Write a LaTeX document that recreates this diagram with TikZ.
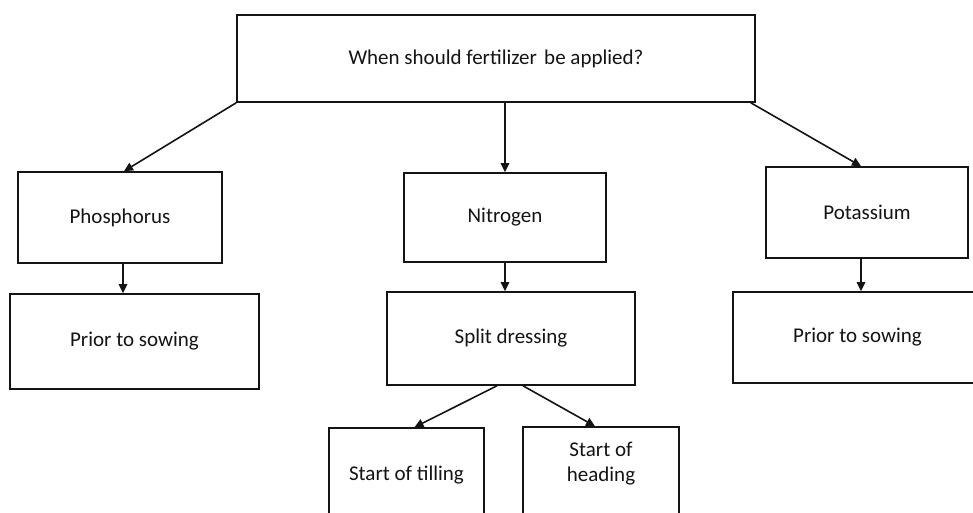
\documentclass[tikz,border=0pt]{standalone}
\usepackage{fontspec}
\setmainfont{Carlito}
\usetikzlibrary{arrows.meta}
\definecolor{ink}{RGB}{20,20,20}
\tikzset{
  box/.style={draw=ink, line width=1.6pt, rectangle, inner sep=0pt, align=center,
              font=\fontsize{21}{25}\selectfont, text=ink},
  link/.style={draw=ink, line width=1.6pt, -{Triangle[length=9pt,width=8.5pt]}}
}
\begin{document}
\begin{tikzpicture}[x=1pt, y=-1pt]
  \useasboundingbox (0,0) rectangle (973,513);
  \clip (0,0) rectangle (973,513);
  \fill[white] (0,0) rectangle (973,513);

  % question
  \node[box, minimum width=518pt, minimum height=87pt] (q) at (496,58.5)
    {When should fertilizer\hspace{0.12em} be applied?};

  % nutrients
  \node[box, minimum width=204pt, minimum height=91pt] (phos) at (120,217.5) {Phosphorus};
  \node[box, minimum width=202pt, minimum height=89pt] (nitro) at (505,217.5) {Nitrogen};
  \node[box, minimum width=202pt, minimum height=91pt] (pot) at (867,212.5) {Potassium};

  % timing
  \node[box, minimum width=249pt, minimum height=95pt] (prior1) at (134.5,341.5) {Prior to sowing};
  \node[box, minimum width=248pt, minimum height=93pt] (split) at (511,338.5) {Split dressing};
  \node[box, minimum width=249pt, minimum height=91pt] (prior2) at (857.5,337.5) {Prior to sowing};

  % split dressing stages
  \node[box, minimum width=155pt, minimum height=94pt] (till) at (406.5,475) {Start of tilling};
  \node[box, minimum width=156pt, minimum height=95pt] (head) at (601,474.5) {Start of\\heading\\\mbox{}};

  % connectors
  \draw[link] (q.south west) -- ([xshift=4pt]phos.north);
  \draw[link] (q.south -| nitro.north) -- (nitro.north);
  \draw[link] ([xshift=-5pt]q.south east) -- ([xshift=-6pt]pot.north);

  \draw[link] ([xshift=3pt]phos.south) -- ([xshift=3pt]phos.south |- prior1.north);
  \draw[link] (nitro.south) -- (nitro.south |- split.north);
  \draw[link] ([xshift=-6pt]pot.south) -- ([xshift=-6pt]pot.south |- prior2.north);

  \draw[link] ([xshift=-14pt]split.south) -- ([xshift=8pt]till.north);
  \draw[link] ([xshift=12pt]split.south) -- ([xshift=-6pt]head.north);
\end{tikzpicture}
\end{document}
